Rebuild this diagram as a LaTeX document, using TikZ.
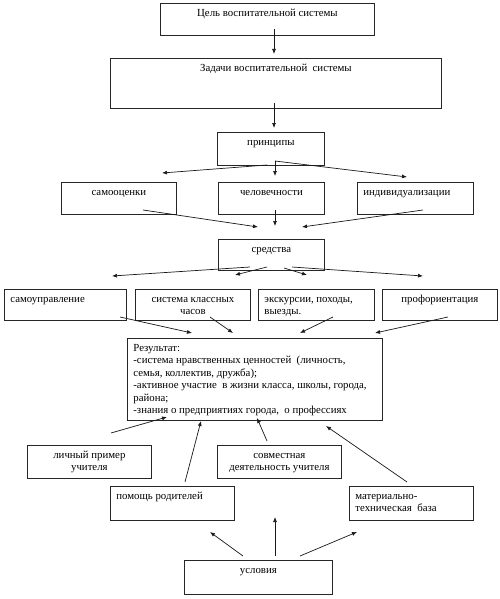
\documentclass[tikz,border=0pt]{standalone}
\usepackage{fontspec}
\setmainfont{Liberation Serif}
\usetikzlibrary{arrows.meta}
\newcommand{\bx}[7]{\node[box] (#1) at (#2,#3) {\parbox[c][#5pt][t]{\dimexpr#4pt-12pt\relax}{#6\baselineskip=12.5pt\rule{0pt}{13pt}#7}};}
\begin{document}
\begin{tikzpicture}[x=1pt,y=-1pt,
  box/.style={draw=black!85, line width=0.8pt, inner xsep=6pt, inner ysep=0pt, anchor=north west, font=\fontsize{10.8}{12.5}\selectfont},
  arr/.style={draw=black!90, line width=0.7pt, -{Latex[length=5pt,width=4pt]}}]
\useasboundingbox (0,0) rectangle (500,599);
\fill[white] (0,0) rectangle (500,599);
% boxes
\bx{cel}{160}{3}{214}{32}{\centering}{Цель воспитательной системы}
\bx{zad}{110}{58}{331}{50}{\centering}{Задачи воспитательной\ \ системы}
\bx{pri}{217}{132}{107}{33}{\centering}{принципы}
\bx{sam}{61}{182}{115}{32}{\centering}{самооценки}
\bx{che}{218}{182}{106}{32}{\centering}{человечности}
\bx{ind}{357}{182}{116}{32}{\raggedright}{индивидуализации}
\bx{sre}{218}{239}{106}{31}{\centering}{средства}
\bx{sup}{4}{289}{122}{31}{\raggedright}{самоуправление}
\bx{skl}{135}{289}{115}{31}{\centering}{система классных\\часов}
\bx{eks}{258}{289}{116}{31}{\raggedright}{экскурсии, походы,\\выезды.}
\bx{pro}{382}{289}{115}{31}{\centering}{профориентация}
\bx{res}{127}{338}{255}{82}{\raggedright}{Результат:\\-система нравственных ценностей\ \ (личность,\\семья, коллектив, дружба);\\-активное участие\ \ в жизни класса, школы, города,\\района;\\-знания о предприятиях города,\ \ о профессиях}
\bx{lic}{27}{445}{124}{33}{\centering}{личный пример\\учителя}
\bx{sov}{217}{445}{124}{33}{\centering}{совместная\\деятельность учителя}
\bx{pom}{110}{486}{124}{34}{\raggedright}{помощь родителей}
\bx{mat}{349}{486}{124}{34}{\raggedright}{материально-\\техническая\ \ база}
\bx{usl}{184}{560}{148}{34}{\centering}{условия}
% connector points
\coordinate (c1s) at (274,29);  \coordinate (c1e) at (274,54);
\coordinate (c2s) at (274,103); \coordinate (c2e) at (274,128);
\coordinate (p0) at (275,161); \coordinate (p0l) at (267,165);
\coordinate (pl) at (162,173); \coordinate (pm) at (275,176); \coordinate (pr) at (407,177);
\coordinate (s1s) at (143,210); \coordinate (s1e) at (258,227);
\coordinate (s2s) at (275,210); \coordinate (s2e) at (275,226);
\coordinate (s3s) at (423,210); \coordinate (s3e) at (302,227);
\coordinate (f1s) at (250,267); \coordinate (f1e) at (112,276);
\coordinate (f2s) at (267,267); \coordinate (f2e) at (235,275);
\coordinate (f3s) at (284,268); \coordinate (f3e) at (307,275);
\coordinate (f4s) at (292,267); \coordinate (f4e) at (423,276);
\coordinate (r1s) at (120,317); \coordinate (r1e) at (192,333);
\coordinate (r2s) at (210,317); \coordinate (r2e) at (233,333);
\coordinate (r3s) at (333,317); \coordinate (r3e) at (300,333);
\coordinate (r4s) at (448,317); \coordinate (r4e) at (375,333);
\coordinate (b1s) at (111,433); \coordinate (b1e) at (167,417);
\coordinate (b2s) at (185,482); \coordinate (b2e) at (201,421);
\coordinate (b3s) at (267,441); \coordinate (b3e) at (257,418);
\coordinate (b4s) at (407,482); \coordinate (b4e) at (326,426);
\coordinate (u1s) at (243,556); \coordinate (u1e) at (210,532);
\coordinate (u2s) at (275,556); \coordinate (u2e) at (275,517);
\coordinate (u3s) at (300,556); \coordinate (u3e) at (357,532);
% connectors
\draw[arr] (c1s) -- (c1e);
\draw[arr] (c2s) -- (c2e);
\draw[arr] (p0l) -- (pl);
\draw[arr] (p0) -- (pm);
\draw[arr] (p0) -- (pr);
\draw[arr] (s1s) -- (s1e);
\draw[arr] (s2s) -- (s2e);
\draw[arr] (s3s) -- (s3e);
\draw[arr] (f1s) -- (f1e);
\draw[arr] (f2s) -- (f2e);
\draw[arr] (f3s) -- (f3e);
\draw[arr] (f4s) -- (f4e);
\draw[arr] (r1s) -- (r1e);
\draw[arr] (r2s) -- (r2e);
\draw[arr] (r3s) -- (r3e);
\draw[arr] (r4s) -- (r4e);
\draw[arr] (b1s) -- (b1e);
\draw[arr] (b2s) -- (b2e);
\draw[arr] (b3s) -- (b3e);
\draw[arr] (b4s) -- (b4e);
\draw[arr] (u1s) -- (u1e);
\draw[arr] (u2s) -- (u2e);
\draw[arr] (u3s) -- (u3e);
\end{tikzpicture}
\end{document}
